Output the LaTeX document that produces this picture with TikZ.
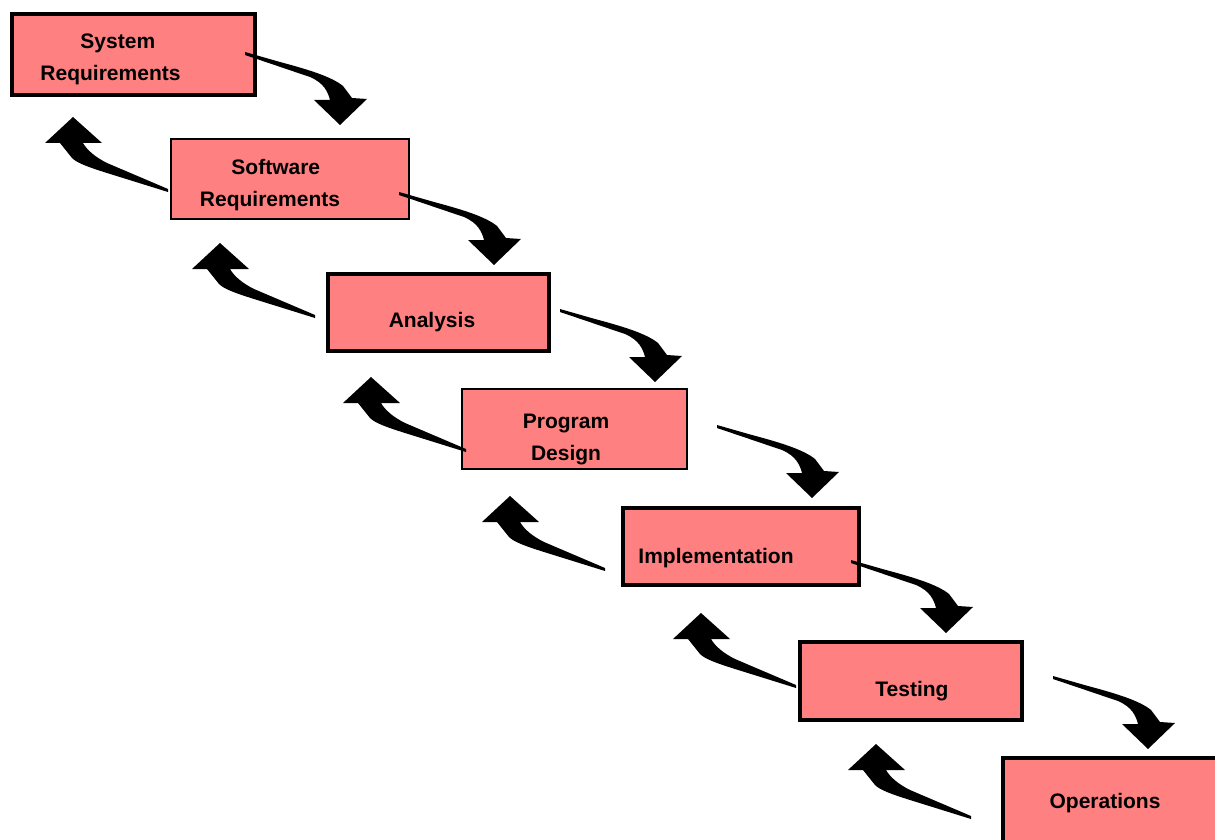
\documentclass[tikz,border=0pt]{standalone}
\usepackage{fontspec}
\setmainfont{Liberation Sans}
\begin{document}
\begin{tikzpicture}[x=1pt,y=-1pt,
  stage/.style={rectangle,fill=stagefill,draw=black,inner sep=0pt},
  heavy/.style={stage,line width=4pt},
  light/.style={stage,line width=2pt},
  caption/.style={font=\fontsize{21}{32}\selectfont\bfseries,inner sep=0pt},
  forward/.pic={\fill[black] (-95,-73) -- (-60,-63) .. controls (-30,-55) and (-8,-48) .. (3,-39) -- (12,-27) -- (27,-26) -- (0,0) -- (-26,-25) -- (-10,-25) .. controls (-12,-33) and (-16,-42) .. (-30,-48) -- (-95,-70) -- cycle;},
  backward/.pic={\fill[black] (0,0) -- (29,26) -- (10,26) .. controls (14,33) and (22,40) .. (34,46) -- (95,72) -- (95,75) -- (34,56) .. controls (15,50) and (4,46) .. (-1,41) -- (-13,26) -- (-28,26) -- cycle;}
]
\definecolor{stagefill}{RGB}{255,128,128}
\useasboundingbox (0,0) rectangle (1215,840);
\clip (0,0) rectangle (1215,840);

% stage boxes
\node[heavy,minimum width=243pt,minimum height=81pt] (sys) at (133.5,54.5) {};
\node[light,minimum width=238pt,minimum height=80pt] (sw) at (290,179) {};
\node[heavy,minimum width=221pt,minimum height=77pt] (ana) at (438.5,312.5) {};
\node[light,minimum width=225pt,minimum height=80pt] (des) at (574.5,429) {};
\node[heavy,minimum width=236pt,minimum height=77pt] (imp) at (741,546.5) {};
\node[heavy,minimum width=222pt,minimum height=78pt] (tst) at (911,681) {};
\node[heavy,minimum width=234pt,minimum height=90pt] (ops) at (1120,803) {};

% stage captions
\node[caption,align=left] (sysT) at (110.5,59) {\hspace*{40pt}System\\Requirements};
\node[caption,align=left] (swT) at (270,185.5) {\hspace*{31.5pt}Software\\Requirements};
\node[caption] (anaT) at (432,322) {Analysis};
\node[caption,align=center] (desT) at (566,439) {Program\\Design};
\node[caption] (impT) at (716,558) {Implementation};
\node[caption] (tstT) at (912,691) {Testing};
\node[caption] (opsT) at (1105,803) {Operations};

% forward flow arrows (placed at their tips)
\coordinate (f1) at (340,125);
\coordinate (f2) at (494,265);
\coordinate (f3) at (655,382);
\coordinate (f4) at (812,498);
\coordinate (f5) at (946,633);
\coordinate (f6) at (1148,749);
\foreach \c in {f1,f2,f3,f4,f5,f6} \pic at (\c) {forward};

% feedback arrows (placed at their tips)
\coordinate (b1) at (73,117);
\coordinate (b2) at (220,243);
\coordinate (b3) at (371,377);
\coordinate (b4) at (510,496);
\coordinate (b5) at (701,613);
\coordinate (b6) at (876,744);
\foreach \c in {b1,b2,b3,b4,b5,b6} \pic at (\c) {backward};
\end{tikzpicture}
\end{document}
